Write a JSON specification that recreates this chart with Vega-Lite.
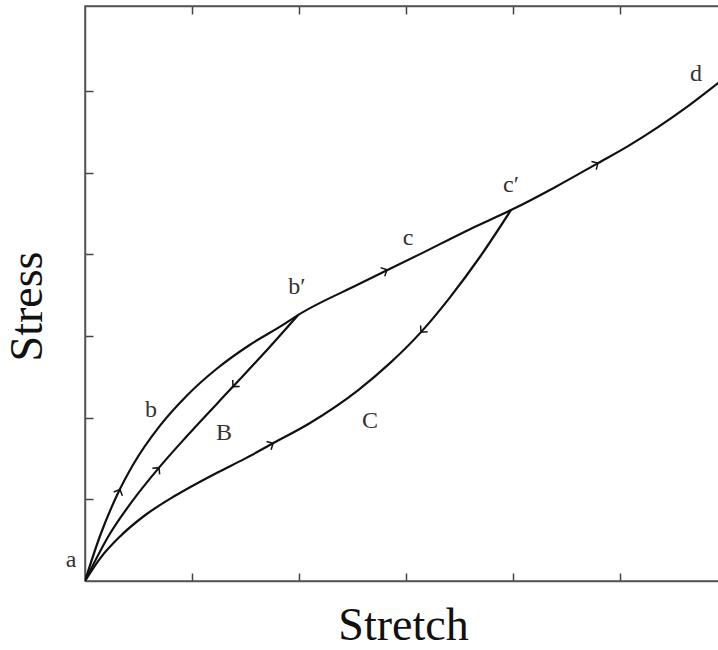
{
  "$schema": "https://vega.github.io/schema/vega-lite/v6.json",
  "autosize": "none",
  "width": 642,
  "height": 575,
  "padding": {"left": 85, "top": 6, "right": 0, "bottom": 69},
  "background": "white",
  "config": {
    "view": {"stroke": "#555", "strokeWidth": 1.5},
    "font": "Liberation Serif",
    "axis": {"grid": false, "labels": false, "tickSize": -8, "tickColor": "#444", "tickWidth": 1.5, "domainColor": "#555", "domainWidth": 1.5, "titleFont": "Liberation Serif", "titleFontSize": 46, "titleFontWeight": "normal", "titleColor": "#111"}
  },
  "datasets": {
    "curves": [
      {"curve": "upper", "stretch": 0, "stress": 0},
      {"curve": "upper", "stretch": 0.14, "stress": 0.551},
      {"curve": "upper", "stretch": 0.299, "stress": 1.05},
      {"curve": "upper", "stretch": 0.449, "stress": 1.423},
      {"curve": "upper", "stretch": 0.701, "stress": 1.902},
      {"curve": "upper", "stretch": 0.953, "stress": 2.272},
      {"curve": "upper", "stretch": 1.234, "stress": 2.602},
      {"curve": "upper", "stretch": 1.542, "stress": 2.893},
      {"curve": "upper", "stretch": 1.85, "stress": 3.135},
      {"curve": "upper", "stretch": 1.991, "stress": 3.256},
      {"curve": "upper", "stretch": 2.561, "stress": 3.635},
      {"curve": "upper", "stretch": 3.131, "stress": 4.002},
      {"curve": "upper", "stretch": 3.598, "stress": 4.308},
      {"curve": "upper", "stretch": 3.981, "stress": 4.541},
      {"curve": "upper", "stretch": 4.393, "stress": 4.822},
      {"curve": "upper", "stretch": 4.794, "stress": 5.116},
      {"curve": "upper", "stretch": 5.075, "stress": 5.324},
      {"curve": "upper", "stretch": 5.355, "stress": 5.557},
      {"curve": "upper", "stretch": 5.636, "stress": 5.814},
      {"curve": "upper", "stretch": 5.916, "stress": 6.095},
      {"curve": "upper", "stretch": 6.0, "stress": 6.18},
      {"curve": "B", "stretch": 0, "stress": 0},
      {"curve": "B", "stretch": 0.234, "stress": 0.581},
      {"curve": "B", "stretch": 0.449, "stress": 0.99},
      {"curve": "B", "stretch": 0.692, "stress": 1.388},
      {"curve": "B", "stretch": 0.953, "stress": 1.775},
      {"curve": "B", "stretch": 1.383, "stress": 2.38},
      {"curve": "B", "stretch": 1.664, "stress": 2.776},
      {"curve": "B", "stretch": 1.991, "stress": 3.256},
      {"curve": "C", "stretch": 0, "stress": 0},
      {"curve": "C", "stretch": 0.14, "stress": 0.275},
      {"curve": "C", "stretch": 0.327, "stress": 0.545},
      {"curve": "C", "stretch": 0.561, "stress": 0.805},
      {"curve": "C", "stretch": 0.841, "stress": 1.043},
      {"curve": "C", "stretch": 1.234, "stress": 1.326},
      {"curve": "C", "stretch": 1.495, "stress": 1.498},
      {"curve": "C", "stretch": 1.757, "stress": 1.686},
      {"curve": "C", "stretch": 2.103, "stress": 1.935},
      {"curve": "C", "stretch": 2.551, "stress": 2.335},
      {"curve": "C", "stretch": 2.85, "stress": 2.667},
      {"curve": "C", "stretch": 3.14, "stress": 3.047},
      {"curve": "C", "stretch": 3.411, "stress": 3.473},
      {"curve": "C", "stretch": 3.692, "stress": 3.97},
      {"curve": "C", "stretch": 3.981, "stress": 4.541}
    ],
    "arrows": [
      {"stretch": 0.327, "stress": 1.12, "heading": -66},
      {"stretch": 0.692, "stress": 1.388, "heading": -50},
      {"stretch": 1.383, "stress": 2.38, "heading": 133},
      {"stretch": 1.757, "stress": 1.686, "heading": -29},
      {"stretch": 3.14, "stress": 3.047, "heading": 132},
      {"stretch": 2.822, "stress": 3.81, "heading": -26},
      {"stretch": 4.794, "stress": 5.116, "heading": -30}
    ],
    "labels": [
      {"label": "a", "stretch": -0.131, "stress": 0.257},
      {"label": "b", "stretch": 0.617, "stress": 2.093},
      {"label": "B", "stretch": 1.299, "stress": 1.811},
      {"label": "b′", "stretch": 1.981, "stress": 3.599},
      {"label": "c", "stretch": 3.019, "stress": 4.198},
      {"label": "C", "stretch": 2.664, "stress": 1.958},
      {"label": "c′", "stretch": 3.981, "stress": 4.847},
      {"label": "d", "stretch": 5.71, "stress": 6.206}
    ]
  },
  "layer": [
    {
      "data": {"name": "curves"},
      "mark": {"type": "line", "interpolate": "monotone", "color": "#111", "strokeWidth": 2.2, "clip": true},
      "encoding": {
        "x": {"field": "stretch", "type": "quantitative", "scale": {"domain": [0, 6], "nice": false, "zero": false},
              "axis": {"orient": "bottom", "values": [1, 2, 3, 4, 5], "title": "Stretch", "titlePadding": 22, "titleX": 318}},
        "y": {"field": "stress", "type": "quantitative", "scale": {"domain": [0, 7.04], "nice": false, "zero": false},
              "axis": {"orient": "left", "values": [1, 2, 3, 4, 5, 6], "title": "Stress", "titlePadding": 33, "titleY": 300}},
        "detail": {"field": "curve"}
      }
    },
    {
      "data": {"name": "arrows"},
      "mark": {"type": "point", "shape": "M -1 -1 L 0 0 L -1 1", "filled": false, "size": 90, "strokeWidth": 1.5, "color": "#111", "opacity": 1},
      "encoding": {
        "x": {"field": "stretch", "type": "quantitative",
              "axis": {"orient": "top", "values": [1, 2, 3, 4, 5], "title": null}},
        "y": {"field": "stress", "type": "quantitative",
              "axis": {"orient": "right", "values": [1, 2, 3, 4, 5, 6], "title": null}},
        "angle": {"field": "heading", "type": "quantitative", "scale": null}
      }
    },
    {
      "data": {"name": "labels"},
      "mark": {"type": "text", "fontSize": 24, "font": "Liberation Serif", "color": "#333", "align": "center", "baseline": "middle"},
      "encoding": {
        "x": {"field": "stretch", "type": "quantitative", "axis": null},
        "y": {"field": "stress", "type": "quantitative", "axis": null},
        "text": {"field": "label"}
      }
    }
  ],
  "resolve": {"axis": {"x": "independent", "y": "independent"}}
}
